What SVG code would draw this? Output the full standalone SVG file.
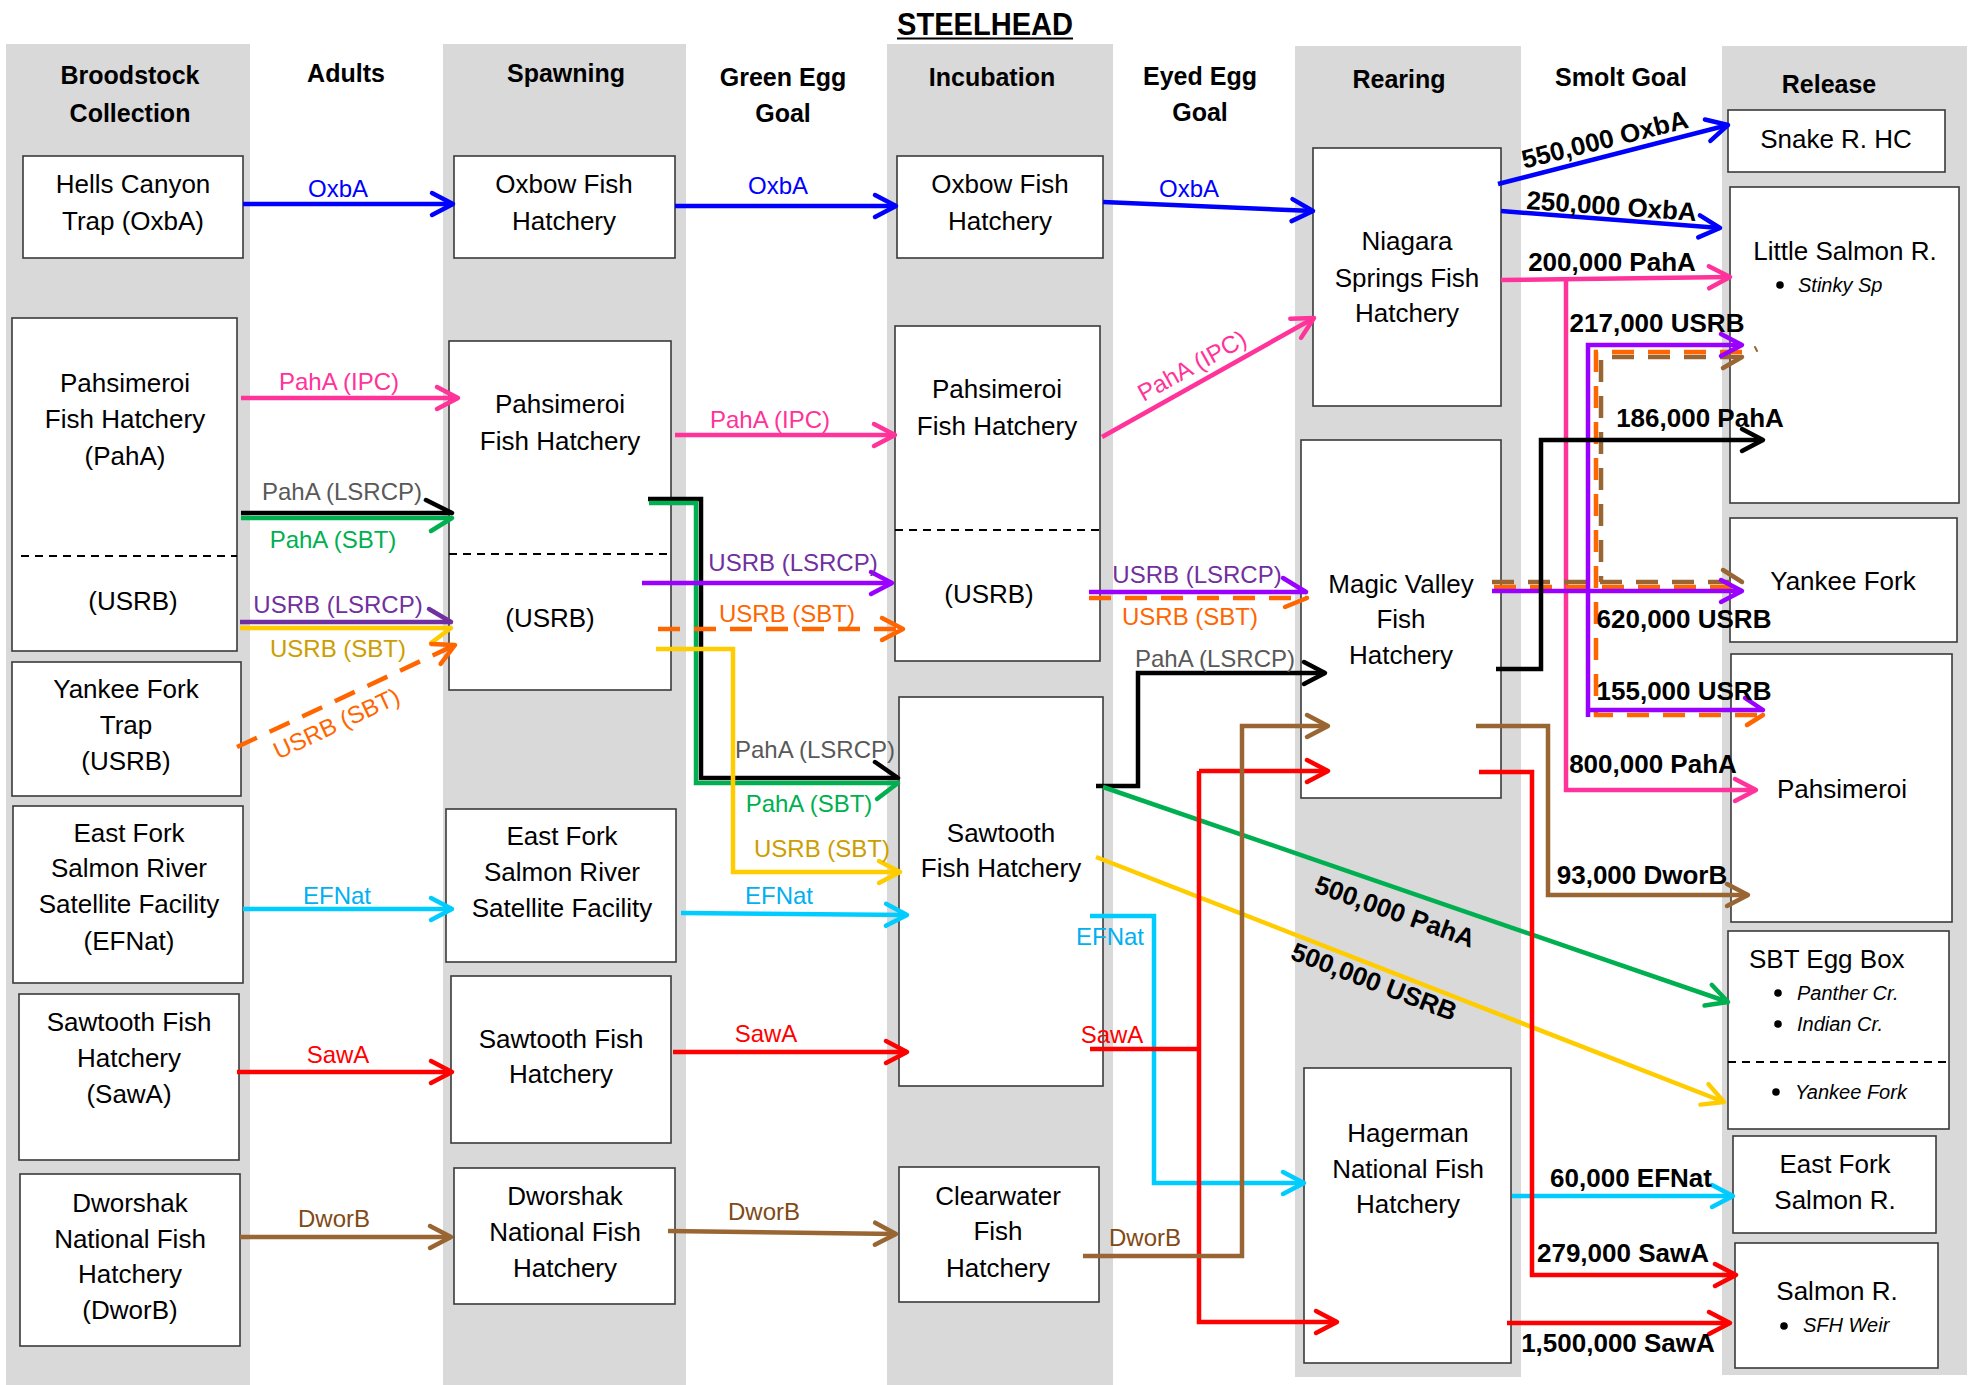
<svg xmlns="http://www.w3.org/2000/svg" width="1975" height="1385" viewBox="0 0 1975 1385">
<style>
.band{fill:#d9d9d9}
.box{fill:#fff;stroke:#3a3a3a;stroke-width:1.6}
.sep{stroke:#000;stroke-width:2;stroke-dasharray:8 6;fill:none}
text{font-family:"Liberation Sans",Arial,Helvetica,sans-serif;text-anchor:middle;fill:#000}
.t{font-size:26px}
.h{font-size:25px;font-weight:bold}
.lbl{font-size:24px}
.num{font-size:26px;font-weight:bold}
.it{font-size:20px;font-style:italic;text-anchor:start}
.st{text-anchor:start}
.c{fill:none;stroke-width:4.5;stroke-linejoin:miter}
.hs{fill:none;stroke-width:4.5;stroke-linecap:round}
.dash{stroke-dasharray:22 14}
.blue{stroke:#0000ff}.pink{stroke:#ff3399}.black{stroke:#000}.green{stroke:#00b050}
.dpur{stroke:#7030a0}.vio{stroke:#9900ff}.yel{stroke:#ffcc00}.org{stroke:#ff6600}
.cyan{stroke:#00ccff}.red{stroke:#ff0000}.brn{stroke:#996633}
.lblue{fill:#0000ff}.lpink{fill:#ff3399}.lgray{fill:#595959}.lgreen{fill:#00b050}
.lpur{fill:#7030a0}.lyel{fill:#cc9e00}.lorg{fill:#ff6600}.lcyan{fill:#00b0f0}
.lred{fill:#ff0000}.lbrn{fill:#7f4a16}
.mk{fill:none;stroke-width:4.5;stroke-linecap:round;stroke-linejoin:round}
</style>
<defs>
<marker id="a-blue" markerUnits="userSpaceOnUse" orient="auto" overflow="visible" markerWidth="40" markerHeight="40" refX="0" refY="0"><path class="mk" stroke="#0000ff" d="M-21,-11 L0,0 L-21,11"/></marker>
<marker id="a-pink" markerUnits="userSpaceOnUse" orient="auto" overflow="visible" markerWidth="40" markerHeight="40" refX="0" refY="0"><path class="mk" stroke="#ff3399" d="M-21,-11 L0,0 L-21,11"/></marker>
<marker id="a-black" markerUnits="userSpaceOnUse" orient="auto" overflow="visible" markerWidth="40" markerHeight="40" refX="0" refY="0"><path class="mk" stroke="#000" d="M-21,-11 L0,0 L-21,11"/></marker>
<marker id="a-green" markerUnits="userSpaceOnUse" orient="auto" overflow="visible" markerWidth="40" markerHeight="40" refX="0" refY="0"><path class="mk" stroke="#00b050" d="M-21,-11 L0,0 L-21,11"/></marker>
<marker id="a-vio" markerUnits="userSpaceOnUse" orient="auto" overflow="visible" markerWidth="40" markerHeight="40" refX="0" refY="0"><path class="mk" stroke="#9900ff" d="M-21,-11 L0,0 L-21,11"/></marker>
<marker id="a-yel" markerUnits="userSpaceOnUse" orient="auto" overflow="visible" markerWidth="40" markerHeight="40" refX="0" refY="0"><path class="mk" stroke="#ffcc00" d="M-21,-11 L0,0 L-21,11"/></marker>
<marker id="a-org" markerUnits="userSpaceOnUse" orient="auto" overflow="visible" markerWidth="40" markerHeight="40" refX="0" refY="0"><path class="mk" stroke="#ff6600" d="M-21,-11 L0,0 L-21,11"/></marker>
<marker id="a-cyan" markerUnits="userSpaceOnUse" orient="auto" overflow="visible" markerWidth="40" markerHeight="40" refX="0" refY="0"><path class="mk" stroke="#00ccff" d="M-21,-11 L0,0 L-21,11"/></marker>
<marker id="a-red" markerUnits="userSpaceOnUse" orient="auto" overflow="visible" markerWidth="40" markerHeight="40" refX="0" refY="0"><path class="mk" stroke="#ff0000" d="M-21,-11 L0,0 L-21,11"/></marker>
<marker id="a-brn" markerUnits="userSpaceOnUse" orient="auto" overflow="visible" markerWidth="40" markerHeight="40" refX="0" refY="0"><path class="mk" stroke="#996633" d="M-21,-11 L0,0 L-21,11"/></marker>
</defs>
<rect width="1975" height="1385" fill="#fff"/>

<g id="bands">
<rect class="band" x="6" y="44" width="244" height="1341"/>
<rect class="band" x="443" y="44" width="243" height="1341"/>
<rect class="band" x="887" y="44" width="226" height="1341"/>
<rect class="band" x="1295" y="46" width="226" height="1331"/>
<rect class="band" x="1722" y="46" width="245" height="1329"/>
</g>

<g id="title">
<text x="985" y="35" font-size="31" font-weight="bold" textLength="176" lengthAdjust="spacingAndGlyphs">STEELHEAD</text>
<line x1="897" y1="38.5" x2="1073" y2="38.5" stroke="#000" stroke-width="2"/>
</g>

<g id="headers">
<text class="h" x="130" y="84">Broodstock</text><text class="h" x="130" y="122">Collection</text>
<text class="h" x="346" y="82">Adults</text>
<text class="h" x="566" y="82">Spawning</text>
<text class="h" x="783" y="86">Green Egg</text><text class="h" x="783" y="122">Goal</text>
<text class="h" x="992" y="86">Incubation</text>
<text class="h" x="1200" y="85">Eyed Egg</text><text class="h" x="1200" y="121">Goal</text>
<text class="h" x="1399" y="88">Rearing</text>
<text class="h" x="1621" y="86">Smolt Goal</text>
<text class="h" x="1829" y="93">Release</text>
</g>

<g id="hells-canyon"><rect class="box" x="23" y="156" width="220" height="102"/><text class="t" x="133" y="193">Hells Canyon</text><text class="t" x="133" y="230">Trap (OxbA)</text></g>
<g id="pahsimeroi-brood"><rect class="box" x="12" y="318" width="225" height="333"/><text class="t" x="125" y="392">Pahsimeroi</text><text class="t" x="125" y="428">Fish Hatchery</text><text class="t" x="125" y="465">(PahA)</text><line class="sep" x1="21" y1="556" x2="237" y2="556"/><text class="t" x="133" y="610">(USRB)</text></g>
<g id="yankee-fork-trap"><rect class="box" x="12" y="662" width="229" height="134"/><text class="t" x="126" y="698">Yankee Fork</text><text class="t" x="126" y="734">Trap</text><text class="t" x="126" y="770">(USRB)</text></g>
<g id="east-fork-brood"><rect class="box" x="13" y="806" width="230" height="177"/><text class="t" x="129" y="842">East Fork</text><text class="t" x="129" y="877">Salmon River</text><text class="t" x="129" y="913">Satellite Facility</text><text class="t" x="129" y="950">(EFNat)</text></g>
<g id="sawtooth-brood"><rect class="box" x="19" y="994" width="220" height="166"/><text class="t" x="129" y="1031">Sawtooth Fish</text><text class="t" x="129" y="1067">Hatchery</text><text class="t" x="129" y="1103">(SawA)</text></g>
<g id="dworshak-brood"><rect class="box" x="20" y="1174" width="220" height="172"/><text class="t" x="130" y="1212">Dworshak</text><text class="t" x="130" y="1248">National Fish</text><text class="t" x="130" y="1283">Hatchery</text><text class="t" x="130" y="1319">(DworB)</text></g>

<g id="oxbow-spawn"><rect class="box" x="454" y="156" width="221" height="102"/><text class="t" x="564" y="193">Oxbow Fish</text><text class="t" x="564" y="230">Hatchery</text></g>
<g id="pahsimeroi-spawn"><rect class="box" x="449" y="341" width="222" height="349"/><text class="t" x="560" y="413">Pahsimeroi</text><text class="t" x="560" y="450">Fish Hatchery</text><line class="sep" x1="449" y1="554" x2="667" y2="554"/><text class="t" x="550" y="627">(USRB)</text></g>
<g id="east-fork-spawn"><rect class="box" x="446" y="809" width="230" height="153"/><text class="t" x="562" y="845">East Fork</text><text class="t" x="562" y="881">Salmon River</text><text class="t" x="562" y="917">Satellite Facility</text></g>
<g id="sawtooth-spawn"><rect class="box" x="451" y="976" width="220" height="167"/><text class="t" x="561" y="1048">Sawtooth Fish</text><text class="t" x="561" y="1083">Hatchery</text></g>
<g id="dworshak-spawn"><rect class="box" x="454" y="1168" width="221" height="136"/><text class="t" x="565" y="1205">Dworshak</text><text class="t" x="565" y="1241">National Fish</text><text class="t" x="565" y="1277">Hatchery</text></g>

<g id="oxbow-inc"><rect class="box" x="897" y="156" width="206" height="102"/><text class="t" x="1000" y="193">Oxbow Fish</text><text class="t" x="1000" y="230">Hatchery</text></g>
<g id="pahsimeroi-inc"><rect class="box" x="895" y="326" width="205" height="335"/><text class="t" x="997" y="398">Pahsimeroi</text><text class="t" x="997" y="435">Fish Hatchery</text><line class="sep" x1="895" y1="530" x2="1100" y2="530"/><text class="t" x="989" y="603">(USRB)</text></g>
<g id="sawtooth-inc"><rect class="box" x="899" y="697" width="204" height="389"/><text class="t" x="1001" y="842">Sawtooth</text><text class="t" x="1001" y="877">Fish Hatchery</text></g>
<g id="clearwater"><rect class="box" x="899" y="1167" width="200" height="135"/><text class="t" x="998" y="1205">Clearwater</text><text class="t" x="998" y="1240">Fish</text><text class="t" x="998" y="1277">Hatchery</text></g>

<g id="niagara"><rect class="box" x="1313" y="148" width="188" height="258"/><text class="t" x="1407" y="250">Niagara</text><text class="t" x="1407" y="287">Springs Fish</text><text class="t" x="1407" y="322">Hatchery</text></g>
<g id="magic-valley"><rect class="box" x="1301" y="440" width="200" height="358"/><text class="t" x="1401" y="593">Magic Valley</text><text class="t" x="1401" y="628">Fish</text><text class="t" x="1401" y="664">Hatchery</text></g>
<g id="hagerman"><rect class="box" x="1304" y="1068" width="207" height="295"/><text class="t" x="1408" y="1142">Hagerman</text><text class="t" x="1408" y="1178">National Fish</text><text class="t" x="1408" y="1213">Hatchery</text></g>

<g id="snake-hc"><rect class="box" x="1728" y="110" width="217" height="62"/><text class="t" x="1836" y="148">Snake R. HC</text></g>
<g id="little-salmon"><rect class="box" x="1730" y="187" width="229" height="316"/><text class="t" x="1845" y="260">Little Salmon R.</text><circle cx="1780" cy="285" r="3.8"/><text class="it" x="1798" y="292">Stinky Sp</text></g>
<g id="yankee-fork-rel"><rect class="box" x="1730" y="518" width="227" height="124"/><text class="t" x="1843" y="590">Yankee Fork</text></g>
<g id="pahsimeroi-rel"><rect class="box" x="1731" y="654" width="221" height="268"/><text class="t" x="1842" y="798">Pahsimeroi</text></g>
<g id="sbt-egg-box"><rect class="box" x="1728" y="931" width="221" height="198"/><text class="t st" x="1749" y="968">SBT Egg Box</text><circle cx="1778" cy="993" r="3.8"/><text class="it" x="1797" y="1000">Panther Cr.</text><circle cx="1778" cy="1024" r="3.8"/><text class="it" x="1797" y="1031">Indian Cr.</text><line class="sep" x1="1728" y1="1062" x2="1949" y2="1062"/><circle cx="1776" cy="1092" r="3.8"/><text class="it" x="1795" y="1099">Yankee Fork</text></g>
<g id="east-fork-rel"><rect class="box" x="1733" y="1136" width="203" height="97"/><text class="t" x="1835" y="1173">East Fork</text><text class="t" x="1835" y="1209">Salmon R.</text></g>
<g id="salmon-rel"><rect class="box" x="1735" y="1243" width="203" height="125"/><text class="t" x="1837" y="1300">Salmon R.</text><circle cx="1784" cy="1326" r="3.8"/><text class="it" x="1803" y="1332">SFH Weir</text></g>

<g id="connectors">
<!-- blue OxbA -->
<path class="c blue" d="M243,204 H453" marker-end="url(#a-blue)"/>
<path class="c blue" d="M675,206 H896" marker-end="url(#a-blue)"/>
<path class="c blue" d="M1103,202 L1313,211" marker-end="url(#a-blue)"/>
<path class="c blue" d="M1498,184 L1728,125" marker-end="url(#a-blue)"/>
<path class="c blue" d="M1501,211 L1720,228" marker-end="url(#a-blue)"/>
<!-- pink PahA (IPC) -->
<path class="c pink" d="M241,398 H458" marker-end="url(#a-pink)"/>
<path class="c pink" d="M675,435 H895" marker-end="url(#a-pink)"/>
<path class="c pink" d="M1102,437 L1314,318" marker-end="url(#a-pink)"/>
<path class="c pink" d="M1501,280 L1730,277" marker-end="url(#a-pink)"/>
<path class="c pink" d="M1566,279 V790 H1756" marker-end="url(#a-pink)"/>
<!-- black PahA (LSRCP) -->
<path class="c black" d="M241,513 H452"/><path class="hs black" d="M426,500 L452,513"/>
<path class="c black" d="M648,499 H701 V778 H898"/><path class="hs black" d="M875,762 L898,778"/>
<path class="c black" d="M1096,786 H1138 V673 H1325" marker-end="url(#a-black)"/>
<!-- green PahA (SBT) -->
<path class="c green" d="M241,518 H452"/><path class="hs green" d="M431,531 L452,518"/>
<path class="c green" d="M649,503 H696 V783 H898"/><path class="hs green" d="M877,799 L898,783"/>
<path class="c green" d="M1103,787 L1728,1002" marker-end="url(#a-green)"/>
<!-- purple USRB (LSRCP) -->
<path class="c dpur" d="M240,622 H451"/><path class="hs dpur" d="M429,609 L451,622"/>
<path class="c vio" d="M642,583 H892" marker-end="url(#a-vio)"/>
<path class="c vio" d="M1089,592 H1306"/><path class="hs vio" d="M1283,578 L1306,592"/>
<!-- yellow USRB (SBT) -->
<path class="c yel" d="M240,628 H451"/><path class="hs yel" d="M431,643 L451,628"/>
<path class="c yel" d="M656,649 H733 V872 H900" marker-end="url(#a-yel)"/>
<path class="c yel" d="M1096,857 L1724,1102" marker-end="url(#a-yel)"/>
<!-- orange dashed USRB (SBT) -->
<path class="c org dash" d="M237,747 L455,645" marker-end="url(#a-org)"/>
<path class="c org dash" d="M658,629 H903" marker-end="url(#a-org)"/>
<path class="c org dash" d="M1089,598 H1307"/><path class="hs org" d="M1285,607 L1307,598"/>
<!-- right side USRB / brown dashed -->
<path class="c brn dash" d="M1492,582 H1742"/><path class="hs brn" d="M1723,570 L1742,582"/>
<path class="c brn dash" d="M1742,357 H1601 V582"/><path class="hs brn" d="M1723,368 L1742,357"/><path class="hs brn" d="M1755,347 L1757,351" style="stroke-width:2"/>
<path class="c org dash" d="M1494,587 H1738"/>
<path class="c org dash" d="M1742,352 H1596 V715 H1763"/><path class="hs org" d="M1747,725 L1763,715"/>
<path class="c vio" d="M1492,591 H1742" marker-end="url(#a-vio)"/>
<path class="c vio" d="M1588,717 V345 H1742" marker-end="url(#a-vio)"/>
<path class="c vio" d="M1588,710 H1763"/><path class="hs vio" d="M1745,698 L1763,710"/>
<!-- black 186,000 -->
<path class="c black" d="M1496,669 H1541 V440 H1763" marker-end="url(#a-black)"/>
<!-- cyan EFNat -->
<path class="c cyan" d="M243,909 H452" marker-end="url(#a-cyan)"/>
<path class="c cyan" d="M681,913 L907,915" marker-end="url(#a-cyan)"/>
<path class="c cyan" d="M1090,916 H1154 V1183 H1304" marker-end="url(#a-cyan)"/>
<path class="c cyan" d="M1512,1196 H1733" marker-end="url(#a-cyan)"/>
<!-- red SawA -->
<path class="c red" d="M237,1072 H452" marker-end="url(#a-red)"/>
<path class="c red" d="M673,1052 H907" marker-end="url(#a-red)"/>
<path class="c red" d="M1090,1049 H1199"/>
<path class="c red" d="M1199,771 H1328" marker-end="url(#a-red)"/>
<path class="c red" d="M1199,771 V1322 H1337" marker-end="url(#a-red)"/>
<path class="c red" d="M1479,772 H1532 V1275 H1736" marker-end="url(#a-red)"/>
<path class="c red" d="M1507,1323 H1730" marker-end="url(#a-red)"/>
<!-- brown DworB -->
<path class="c brn" d="M240,1237 H451" marker-end="url(#a-brn)"/>
<path class="c brn" d="M668,1231 L896,1234" marker-end="url(#a-brn)"/>
<path class="c brn" d="M1083,1256 H1242 V726 H1328" marker-end="url(#a-brn)"/>
<path class="c brn" d="M1476,726 H1548 V895 H1748" marker-end="url(#a-brn)"/>

<!-- labels -->
<text class="lbl lblue" x="338" y="197">OxbA</text>
<text class="lbl lblue" x="778" y="194">OxbA</text>
<text class="lbl lblue" x="1189" y="197">OxbA</text>
<text class="lbl lpink" x="339" y="390">PahA (IPC)</text>
<text class="lbl lpink" x="770" y="428">PahA (IPC)</text>
<text class="lbl lpink" transform="translate(1196,373) rotate(-29)">PahA (IPC)</text>
<text class="lbl lgray" x="342" y="500">PahA (LSRCP)</text>
<text class="lbl lgreen" x="333" y="548">PahA (SBT)</text>
<text class="lbl lpur" x="338" y="613">USRB (LSRCP)</text>
<text class="lbl lyel" x="338" y="657">USRB (SBT)</text>
<text class="lbl lorg" transform="translate(340,731) rotate(-25)">USRB (SBT)</text>
<text class="lbl lpur" x="793" y="571">USRB (LSRCP)</text>
<text class="lbl lorg" x="787" y="622">USRB (SBT)</text>
<text class="lbl lgray" x="815" y="758">PahA (LSRCP)</text>
<text class="lbl lgreen" x="809" y="812">PahA (SBT)</text>
<text class="lbl lyel" x="822" y="857">USRB (SBT)</text>
<text class="lbl lpur" x="1197" y="583">USRB (LSRCP)</text>
<text class="lbl lorg" x="1190" y="625">USRB (SBT)</text>
<text class="lbl lgray" x="1215" y="667">PahA (LSRCP)</text>
<text class="lbl lcyan" x="337" y="904">EFNat</text>
<text class="lbl lcyan" x="779" y="904">EFNat</text>
<text class="lbl lcyan" x="1110" y="945">EFNat</text>
<text class="lbl lred" x="338" y="1063">SawA</text>
<text class="lbl lred" x="766" y="1042">SawA</text>
<text class="lbl lred" x="1112" y="1043">SawA</text>
<text class="lbl lbrn" x="334" y="1227">DworB</text>
<text class="lbl lbrn" x="764" y="1220">DworB</text>
<text class="lbl lbrn" x="1145" y="1246">DworB</text>
<text class="num" transform="translate(1607,148) rotate(-14)">550,000 OxbA</text>
<text class="num" transform="translate(1611,215) rotate(4)">250,000 OxbA</text>
<text class="num" x="1612" y="271">200,000 PahA</text>
<text class="num" x="1657" y="332">217,000 USRB</text>
<text class="num" x="1700" y="427">186,000 PahA</text>
<text class="num" x="1684" y="628">620,000 USRB</text>
<text class="num" x="1684" y="700">155,000 USRB</text>
<text class="num" x="1653" y="773">800,000 PahA</text>
<text class="num" x="1642" y="884">93,000 DworB</text>
<text class="num" transform="translate(1392,920) rotate(19.5)">500,000 PahA</text>
<text class="num" transform="translate(1371,990) rotate(21)">500,000 USRB</text>
<text class="num" x="1631" y="1187">60,000 EFNat</text>
<text class="num" x="1623" y="1262">279,000 SawA</text>
<text class="num" x="1618" y="1352">1,500,000 SawA</text>
</g>
</svg>
